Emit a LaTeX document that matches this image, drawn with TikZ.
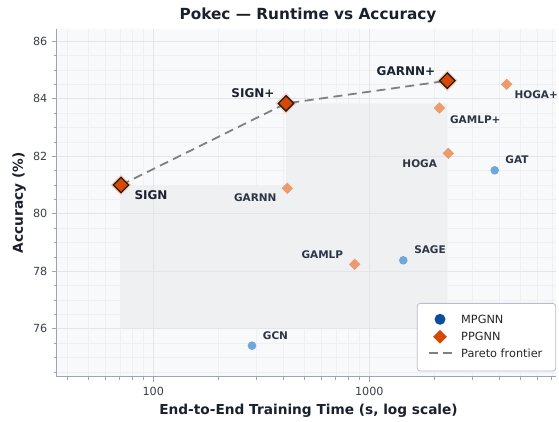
\documentclass[tikz,border=0pt]{standalone}
\usepackage{fontspec}
\setmainfont{DejaVu Sans}
\usetikzlibrary{shapes.geometric}
\definecolor{axbg}{HTML}{F8F9FB}
\definecolor{shadec}{HTML}{EFF0F2}
\definecolor{majgrid}{HTML}{E3E5EA}
\definecolor{mingrid}{HTML}{EEF0F4}
\definecolor{spinec}{HTML}{9CA3B4}
\definecolor{tickc}{HTML}{3A3F48}
\definecolor{titlec}{HTML}{1A202C}
\definecolor{parfill}{HTML}{D94801}
\definecolor{paredge}{HTML}{1E1E1E}
\definecolor{halo}{HTML}{FAD6C3}
\definecolor{lorange}{HTML}{EB9B6C}
\definecolor{lblue}{HTML}{6FA7DB}
\definecolor{legblue}{HTML}{0B4F9A}
\definecolor{dashc}{HTML}{808080}
\definecolor{labdark}{HTML}{1C2230}
\definecolor{labmid}{HTML}{2E3646}
\definecolor{legedge}{HTML}{B8BEC9}
\tikzset{
  mpnode/.style={circle,fill=lblue,draw=none,inner sep=0pt,minimum size=8.6pt},
  ppnode/.style={diamond,fill=lorange,draw=none,inner sep=0pt,minimum width=11.6pt,minimum height=11.6pt},
  parhalo/.style={diamond,fill=halo,draw=none,inner sep=0pt,minimum width=21.5pt,minimum height=21.5pt},
  parnode/.style={diamond,fill=parfill,draw=paredge,line width=1.3pt,inner sep=0pt,minimum width=16pt,minimum height=16pt},
  lablo/.style={inner sep=0pt,text=labmid,font=\fontsize{10.5}{12}\selectfont\bfseries},
  labhi/.style={inner sep=0pt,text=labdark,font=\fontsize{12}{14}\selectfont\bfseries},
  ticklab/.style={inner sep=0pt,text=tickc,font=\fontsize{11.2}{13}\selectfont},
  legtext/.style={inner sep=0pt,anchor=base west,text=black!85,font=\fontsize{11.3}{13}\selectfont},
  frontier/.style={dashc,line width=1.8pt,dash pattern=on 9pt off 5.5pt},
}
\begin{document}
\begin{tikzpicture}[x=1pt,y=-1pt]
\useasboundingbox (0,0) rectangle (559,421);
% axes background
\fill[axbg] (56.7,29) rectangle (556,376.7);
% minor grid x
\foreach \t in {40,50,60,70,80,90,200,300,400,500,600,700,800,900,2000,3000,4000,5000,6000,7000}{
  \pgfmathsetmacro\xx{153.3+216*log10(\t/100)}
  \draw[mingrid,line width=0.6pt] (\xx,29) -- (\xx,376.7);
}
% minor grid y
\foreach \a in {74.5,75,75.5,76.5,77,77.5,78.5,79,79.5,80.5,81,81.5,82.5,83,83.5,84.5,85,85.5}{
  \pgfmathsetmacro\yy{41.3+(86-\a)*28.75}
  \draw[mingrid,line width=0.6pt] (56.7,\yy) -- (556,\yy);
}
% dominated region
\fill[shadec] (121,328.8) -- (121,185) -- (286,185) -- (286,103.4) -- (447.3,103.4) -- (447.3,328.8) -- cycle;
% major grid
\foreach \xx in {153.3,369.3}{
  \draw[majgrid,line width=0.9pt] (\xx,29) -- (\xx,376.7);
}
\foreach \a in {76,78,80,82,84,86}{
  \pgfmathsetmacro\yy{41.3+(86-\a)*28.75}
  \draw[majgrid,line width=0.9pt] (56.7,\yy) -- (556,\yy);
}
% spines and ticks
\draw[spinec,line width=0.9pt] (56.7,29) -- (56.7,376.7) -- (556,376.7);
\foreach \t in {40,50,60,70,80,90,200,300,400,500,600,700,800,900,2000,3000,4000,5000,6000,7000}{
  \pgfmathsetmacro\xx{153.3+216*log10(\t/100)}
  \draw[spinec,line width=0.7pt] (\xx,376.7) -- (\xx,379.7);
}
\foreach \xx/\lab in {153.3/100,369.3/1000}{
  \draw[spinec,line width=0.9pt] (\xx,376.7) -- (\xx,381.7);
  \node[ticklab,anchor=base] at (\xx,395) {\lab};
}
\foreach \a in {74.5,75,75.5,76.5,77,77.5,78.5,79,79.5,80.5,81,81.5,82.5,83,83.5,84.5,85,85.5}{
  \pgfmathsetmacro\yy{41.3+(86-\a)*28.75}
  \draw[spinec,line width=0.7pt] (56.7,\yy) -- (53.7,\yy);
}
\foreach \a in {76,78,80,82,84,86}{
  \pgfmathsetmacro\yy{41.3+(86-\a)*28.75}
  \draw[spinec,line width=0.9pt] (56.7,\yy) -- (51.7,\yy);
  \node[ticklab,anchor=east] at (47.5,\yy) {\a};
}
% title and axis labels
\node[inner sep=0pt,anchor=base,text=titlec,font=\fontsize{15.3}{18}\selectfont\bfseries] (title) at (308,19.3) {Pokec — Runtime vs Accuracy};
\node[inner sep=0pt,anchor=base,text=titlec,font=\fontsize{13.7}{16}\selectfont\bfseries] (xlabel) at (308.5,414.5) {End-to-End Training Time (s, log scale)};
\node[inner sep=0pt,anchor=base,rotate=90,text=titlec,font=\fontsize{13.7}{16}\selectfont\bfseries] (ylabel) at (22.8,203) {Accuracy (\%)};
% MPGNN points
\node[mpnode] (gcn) at (252,345.7) {};
\node[mpnode] (sage) at (403.3,260.3) {};
\node[mpnode] (gat) at (494.7,170.3) {};
% non-frontier PPGNN points
\node[ppnode] (garnn) at (287.3,188.3) {};
\node[ppnode] (gamlp) at (354.7,264.3) {};
\node[ppnode] (hoga) at (448.3,153.3) {};
\node[ppnode] (gamlpp) at (439.3,108) {};
\node[ppnode] (hogap) at (506.7,84.3) {};
% frontier points
\node[parhalo] (hsign) at (121,185) {};
\node[parhalo] (hsignp) at (286,103.4) {};
\node[parhalo] (hgarnnp) at (447.3,80.7) {};
\draw[frontier] (hsign.center) -- (hsignp.center) -- (hgarnnp.center);
\node[parnode] (sign) at (121,185) {};
\node[parnode] (signp) at (286,103.4) {};
\node[parnode] (garnnp) at (447.3,80.7) {};
% labels
\node[labhi] (lsign) at (151,194.7) {SIGN};
\node[labhi] (lsignp) at (253,93.3) {SIGN+};
\node[labhi] (lgarnnp) at (406,70.7) {GARNN+};
\node[lablo,anchor=east] (lhogap) at (558,94.3) {HOGA+};
\node[lablo] (lgamlpp) at (475.3,120) {GAMLP+};
\node[lablo] (lhoga) at (419.7,163.3) {HOGA};
\node[lablo] (lgat) at (517,160) {GAT};
\node[lablo] (lgarnn) at (255.3,197.7) {GARNN};
\node[lablo] (lgamlp) at (322.3,254.3) {GAMLP};
\node[lablo] (lsage) at (430,250) {SAGE};
\node[lablo,anchor=west] (lgcn) at (262.7,335.7) {GCN};
% legend
\node[draw=legedge,fill=white,line width=0.8pt,rounded corners=3pt,inner sep=0pt,minimum width=138.4pt,minimum height=67.7pt] (legend) at (486.5,337.2) {};
\node[circle,fill=legblue,inner sep=0pt,minimum size=11pt] (legmp) at (440,319.3) {};
\node[legtext] (legmpt) at (461,323.4) {MPGNN};
\node[diamond,fill=parfill,inner sep=0pt,minimum width=14pt,minimum height=14pt] (legpp) at (440,336.7) {};
\node[legtext] (legppt) at (461,340.8) {PPGNN};
\coordinate (legd1) at (429,353.3);
\coordinate (legd2) at (452,353.3);
\draw[dashc,line width=1.8pt,dash pattern=on 9pt off 5pt] (legd1) -- (legd2);
\node[legtext] (legdt) at (461,357.5) {Pareto frontier};
\end{tikzpicture}
\end{document}
